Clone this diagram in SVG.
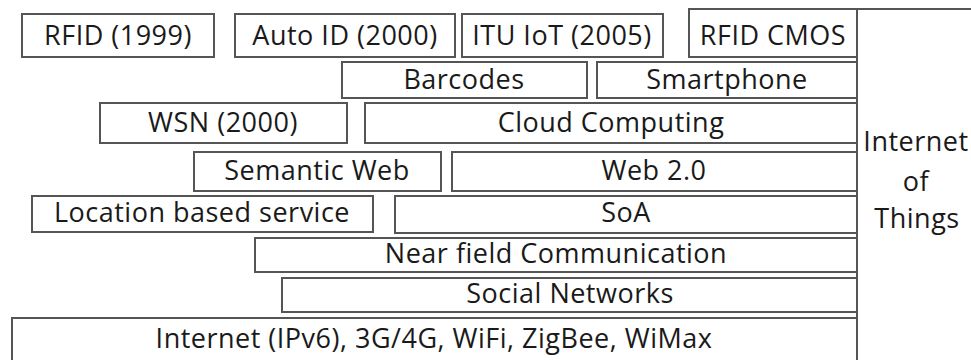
<svg xmlns="http://www.w3.org/2000/svg" width="971" height="360" viewBox="0 0 971 360">
<style>
.box{fill:#fff;stroke:#555;stroke-width:2}
.lbl{font-family:"Open Sans","Liberation Sans",sans-serif;font-size:27px;letter-spacing:0.5px;fill:#1a1a1a;text-anchor:middle}
.frame{fill:none;stroke:#555;stroke-width:2}
</style>
<rect width="971" height="360" fill="#fff"/>
<g id="iot-frame">
<path class="frame" d="M857 9 H971 M857 9 V360"/>
<text class="lbl" x="916" y="151">Internet</text>
<text class="lbl" x="916" y="191">of</text>
<text class="lbl" x="917" y="228">Things</text>
</g>
<g id="rfid1999"><rect class="box" x="22" y="14" width="192" height="43"/><text class="lbl" x="118" y="45">RFID (1999)</text></g>
<g id="autoid"><rect class="box" x="235" y="14" width="220" height="43"/><text class="lbl" x="345" y="45">Auto ID (2000)</text></g>
<g id="ituiot"><rect class="box" x="462" y="14" width="201" height="43"/><text class="lbl" x="562" y="45">ITU IoT (2005)</text></g>
<g id="rfidcmos"><rect class="box" x="689" y="9" width="168" height="48"/><text class="lbl" x="773" y="45">RFID CMOS</text></g>
<g id="barcodes"><rect class="box" x="342" y="62" width="245" height="36"/><text class="lbl" x="464" y="89">Barcodes</text></g>
<g id="smartphone"><rect class="box" x="597" y="62" width="260" height="36"/><text class="lbl" x="727" y="89">Smartphone</text></g>
<g id="wsn"><rect class="box" x="100" y="103" width="247" height="40"/><text class="lbl" x="223" y="132">WSN (2000)</text></g>
<g id="cloud"><rect class="box" x="365" y="103" width="492" height="40"/><text class="lbl" x="611" y="132">Cloud Computing</text></g>
<g id="semweb"><rect class="box" x="194" y="152" width="247" height="39"/><text class="lbl" x="317" y="180">Semantic Web</text></g>
<g id="web20"><rect class="box" x="452" y="152" width="405" height="39"/><text class="lbl" x="654" y="180">Web 2.0</text></g>
<g id="lbs"><rect class="box" x="32" y="196" width="341" height="36"/><text class="lbl" x="202" y="222">Location based service</text></g>
<g id="soa"><rect class="box" x="395" y="196" width="462" height="37"/><text class="lbl" x="626" y="222">SoA</text></g>
<g id="nfc"><rect class="box" x="255" y="238" width="602" height="34"/><text class="lbl" x="556" y="263">Near field Communication</text></g>
<g id="social"><rect class="box" x="282" y="278" width="575" height="34"/><text class="lbl" x="570" y="303">Social Networks</text></g>
<g id="internet"><rect class="box" x="12" y="318" width="845" height="50"/><text class="lbl" x="434" y="348">Internet (IPv6), 3G/4G, WiFi, ZigBee, WiMax</text></g>
<g id="connectors"></g>
</svg>
